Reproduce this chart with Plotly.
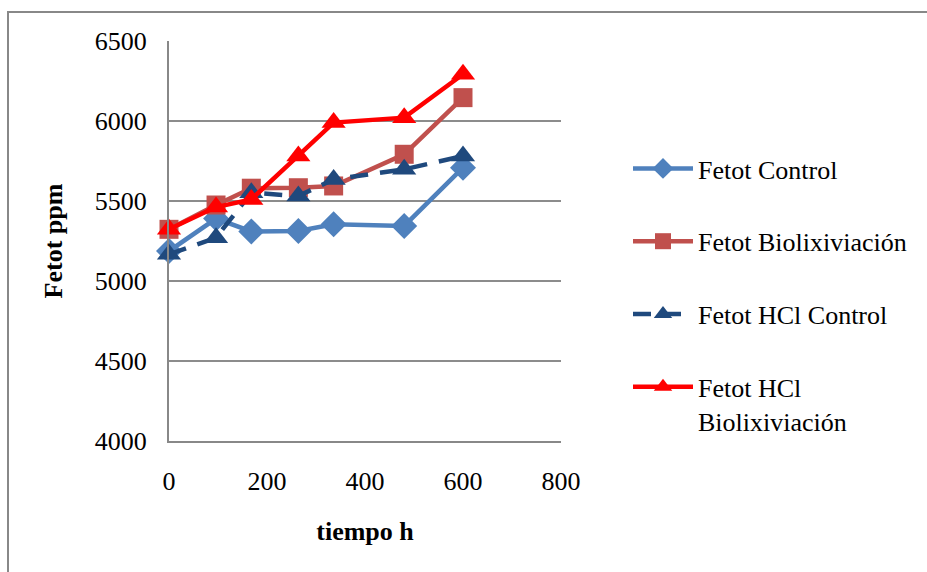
import plotly.graph_objects as go

tiempo = [0, 96, 168, 264, 336, 480, 600]
fetot_control = [5187, 5390, 5310, 5312, 5354, 5344, 5708]
fetot_biolix = [5323, 5475, 5580, 5583, 5594, 5792, 6146]
fetot_hcl_control = [5167, 5271, 5552, 5531, 5635, 5698, 5781]
fetot_hcl_biolix = [5323, 5462, 5510, 5781, 5990, 6021, 6292]

names = ["Fetot Control", "Fetot Biolixiviación", "Fetot HCl Control", "Fetot HCl<br>Biolixiviación"]
colors = ["#4F81BD", "#C0504D", "#1F497D", "#FF0000"]
symbols = ["diamond", "square", "triangle-up", "triangle-up"]
sizes = [20, 19, 21, 21]
dashes = ["solid", "solid", "18px,12px", "solid"]
series = [fetot_control, fetot_biolix, fetot_hcl_control, fetot_hcl_biolix]

FONT = "Liberation Serif, Times New Roman, serif"

fig = go.Figure()
for i, (nm, c, s, sz, d, ys) in enumerate(zip(names, colors, symbols, sizes, dashes, series)):
    fig.add_trace(go.Scatter(
        x=tiempo, y=ys, name=nm, mode="lines+markers",
        line=dict(color=c, width=4.5, dash=d),
        marker=dict(symbol=s, size=sz, color=c),
        legendgroup=f"g{i}", cliponaxis=False,
    ))

W, H = 927, 572
L, R, T, B = 169, 366, 41, 131
pw, ph = W - L - R, H - T - B

fig.update_layout(
    width=W, height=H,
    margin=dict(l=L, r=R, t=T, b=B),
    paper_bgcolor="white", plot_bgcolor="white",
    font=dict(family=FONT, size=26, color="black"),
    showlegend=True,
    legend=dict(
        x=(628 - L) / pw, y=1 - (145 - T) / ph, xanchor="left", yanchor="top",
        font=dict(size=26, family=FONT), tracegroupgap=36, valign="top",
        bgcolor="rgba(0,0,0,0)", itemwidth=60,
    ),
    xaxis=dict(
        range=[0, 800], dtick=200, tick0=0, showgrid=False,
        showline=True, linecolor="#888888", linewidth=2,
        ticks="", ticklabelstandoff=16, zeroline=False,
        title=dict(text="<b>tiempo h</b>", standoff=27, font=dict(size=26, family=FONT)),
    ),
    yaxis=dict(
        range=[4000, 6500], dtick=500, tick0=4000, showgrid=True,
        gridcolor="#8C8C8C", gridwidth=1.5,
        showline=True, linecolor="#888888", linewidth=2,
        ticks="", ticklabelstandoff=15, zeroline=False,
        title=dict(text="<b>Fetot ppm</b>", standoff=25, font=dict(size=26, family=FONT)),
    ),
    shapes=[dict(
        type="rect", xref="paper", yref="paper",
        x0=(8 - L) / pw, x1=(W + 20 - L) / pw,
        y0=-(H + 20 - T - ph) / ph, y1=1 + (T - 12) / ph,
        line=dict(color="#888888", width=2), layer="below",
    )],
)

fig.write_html("out.html")
